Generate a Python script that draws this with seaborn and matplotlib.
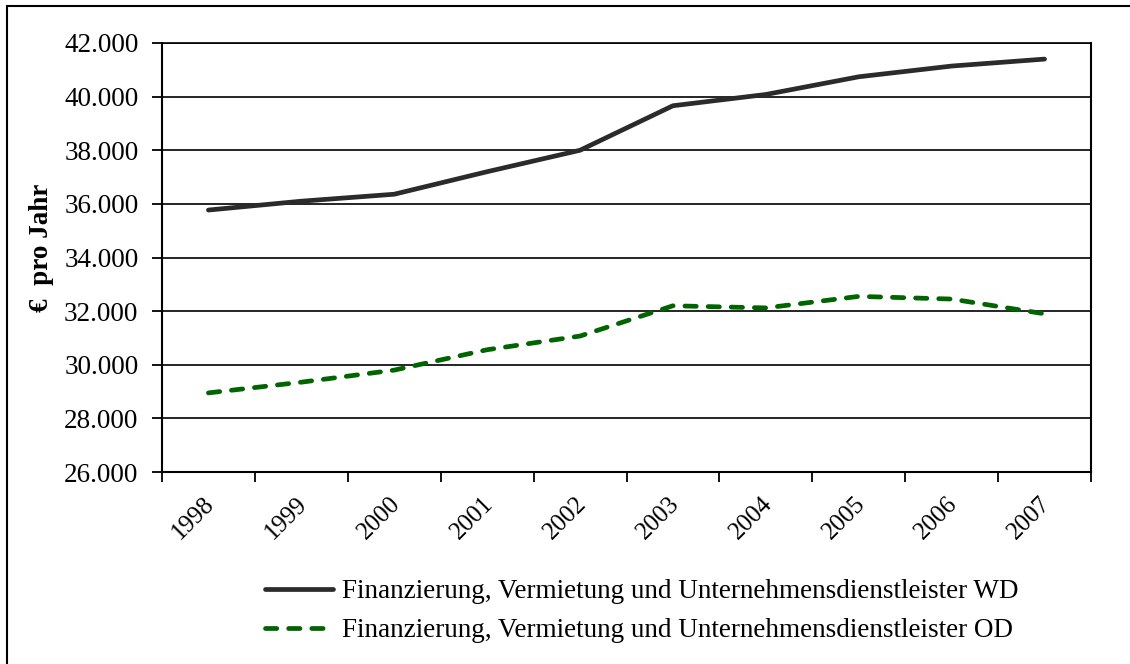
import numpy as np
import pandas as pd
import matplotlib
matplotlib.use("Agg")
import matplotlib.pyplot as plt
import matplotlib.transforms as mtransforms
from matplotlib.ticker import FuncFormatter, FixedLocator
from matplotlib.patches import Rectangle
from matplotlib.lines import Line2D
import seaborn as sns

# Data
years = ["1998", "1999", "2000", "2001", "2002", "2003", "2004", "2005", "2006", "2007"]
wd_values = [35770, 36100, 36360, 37200, 38000, 39660, 40080, 40740, 41140, 41400]
od_values = [28950, 29350, 29800, 30560, 31070, 32200, 32120, 32550, 32450, 31900]
label_wd = "Finanzierung, Vermietung und Unternehmensdienstleister WD"
label_od = "Finanzierung, Vermietung und Unternehmensdienstleister OD"
y_ticks = [26000, 28000, 30000, 32000, 34000, 36000, 38000, 40000, 42000]

df = pd.DataFrame({
    "Jahr": years * 2,
    "Wert": wd_values + od_values,
    "Reihe": [label_wd] * len(years) + [label_od] * len(years),
})

WD_COLOR = "#2b2b2b"
OD_COLOR = "#006400"
OD_DASH = (2.4, 2.5)
LW = 3.4
FS = 19.5

sns.set_theme(style="white")
plt.rcParams["font.family"] = ["Liberation Serif", "DejaVu Serif"]
for key in ["text.color", "axes.labelcolor", "xtick.color", "ytick.color"]:
    plt.rcParams[key] = "black"

fig = plt.figure(figsize=(11.3, 6.64), dpi=100)
ax = fig.add_axes([162 / 1130, 1 - 472 / 664, (1091 - 162) / 1130, (472 - 43) / 664])

sns.lineplot(data=df, x="Jahr", y="Wert", hue="Reihe", style="Reihe",
             palette={label_wd: WD_COLOR, label_od: OD_COLOR},
             dashes={label_wd: "", label_od: OD_DASH},
             linewidth=LW, ax=ax, legend=False, sort=False)
for ln in ax.lines:
    ln.set_solid_capstyle("round")
    ln.set_dash_capstyle("round")
    ln.set_solid_joinstyle("round")

ax.set_xlim(-0.5, len(years) - 0.5)
ax.set_ylim(y_ticks[0], y_ticks[-1])
ax.set_yticks(y_ticks)
ax.yaxis.set_major_formatter(FuncFormatter(lambda v, p: f"{v:,.0f}".replace(",", ".")))
ax.yaxis.grid(True, color="black", linewidth=1.2)
ax.set_axisbelow(True)

# category labels at centres, tick marks at category boundaries
ax.set_xticks(range(len(years)))
ax.set_xticklabels(years, rotation=45, ha="right", rotation_mode="anchor")
ax.xaxis.set_minor_locator(FixedLocator(np.arange(-0.5, len(years), 1.0)))
ax.tick_params(axis="x", which="major", length=0, pad=15, labelsize=18)
ax.tick_params(axis="x", which="minor", length=7, width=1.3, direction="out", bottom=True)
ax.tick_params(axis="y", length=7, width=1.3, direction="out", left=True, labelsize=FS, pad=10)
shift = mtransforms.ScaledTranslation(-0.05, 0, fig.dpi_scale_trans)
for lbl in ax.get_xticklabels():
    lbl.set_transform(lbl.get_transform() + shift)

ax.set_xlabel("")
ax.set_ylabel("€  pro Jahr", fontsize=FS, fontweight="bold")
ax.yaxis.set_label_coords(-0.116, 0.522)

for sp in ax.spines.values():
    sp.set_color("black")
    sp.set_linewidth(1.5)
    sp.set_visible(True)
ax.spines["top"].set_linewidth(1.2)

handles = [
    Line2D([], [], color=WD_COLOR, linewidth=LW, solid_capstyle="round"),
    Line2D([], [], color=OD_COLOR, linewidth=LW, dashes=OD_DASH, dash_capstyle="round"),
]
fig.legend(handles, [label_wd, label_od], loc="upper left",
           bbox_to_anchor=(241 / 1130, 1 - 555 / 664), frameon=False,
           fontsize=FS, handlelength=2.5, handletextpad=0.33, labelspacing=0.52)

# outer chart border (only top and left edges are inside the picture)
fig.patches.append(Rectangle((7 / 1130, -0.1), 1.2, 1 - 6 / 664 + 0.1,
                             transform=fig.transFigure, fill=False,
                             edgecolor="black", linewidth=1.5))

fig.savefig("out.png", dpi=100, facecolor="white")
